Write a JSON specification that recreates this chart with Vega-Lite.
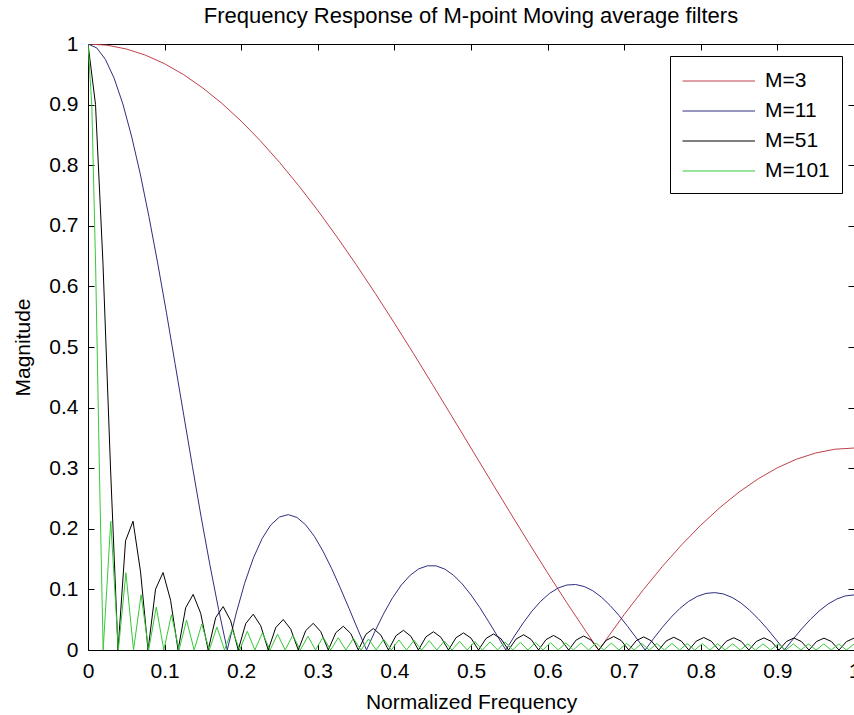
{
  "$schema": "https://vega.github.io/schema/vega-lite/v6.json",
  "width": 766,
  "height": 606,
  "autosize": {"type": "none"},
  "padding": {"left": 88, "top": 44, "right": 0, "bottom": 65},
  "background": "white",
  "title": {"text": "Frequency Response of M-point Moving average filters", "offset": 5},
  "data": {"values": [
    {"M":"M=3","f":0,"y":1},{"M":"M=3","f":0.025,"y":0.998},{"M":"M=3","f":0.05,"y":0.9918},{"M":"M=3","f":0.075,"y":0.9816},{"M":"M=3","f":0.1,"y":0.9674},{"M":"M=3","f":0.125,"y":0.9493},{"M":"M=3","f":0.15,"y":0.9273},{"M":"M=3","f":0.175,"y":0.9018},{"M":"M=3","f":0.2,"y":0.8727},{"M":"M=3","f":0.225,"y":0.8403},{"M":"M=3","f":0.25,"y":0.8047},{"M":"M=3","f":0.275,"y":0.7663},{"M":"M=3","f":0.3,"y":0.7252},{"M":"M=3","f":0.325,"y":0.6817},{"M":"M=3","f":0.35,"y":0.636},{"M":"M=3","f":0.375,"y":0.5885},{"M":"M=3","f":0.4,"y":0.5393},{"M":"M=3","f":0.425,"y":0.489},{"M":"M=3","f":0.45,"y":0.4376},{"M":"M=3","f":0.475,"y":0.3856},{"M":"M=3","f":0.5,"y":0.3333},{"M":"M=3","f":0.525,"y":0.281},{"M":"M=3","f":0.55,"y":0.229},{"M":"M=3","f":0.575,"y":0.1777},{"M":"M=3","f":0.6,"y":0.1273},{"M":"M=3","f":0.625,"y":0.0782},{"M":"M=3","f":0.65,"y":0.0307},{"M":"M=3","f":0.6667,"y":0},{"M":"M=3","f":0.7,"y":0.0585},{"M":"M=3","f":0.725,"y":0.0996},{"M":"M=3","f":0.75,"y":0.1381},{"M":"M=3","f":0.775,"y":0.1736},{"M":"M=3","f":0.8,"y":0.206},{"M":"M=3","f":0.825,"y":0.2351},{"M":"M=3","f":0.85,"y":0.2607},{"M":"M=3","f":0.875,"y":0.2826},{"M":"M=3","f":0.9,"y":0.3007},{"M":"M=3","f":0.925,"y":0.3149},{"M":"M=3","f":0.95,"y":0.3251},{"M":"M=3","f":0.975,"y":0.3313},{"M":"M=3","f":1,"y":0.3333},

    {"M":"M=11","f":0,"y":1},{"M":"M=11","f":0.0114,"y":0.9936},{"M":"M=11","f":0.0227,"y":0.9747},{"M":"M=11","f":0.0341,"y":0.9436},{"M":"M=11","f":0.0455,"y":0.9011},{"M":"M=11","f":0.0568,"y":0.8481},{"M":"M=11","f":0.0682,"y":0.7857},{"M":"M=11","f":0.0795,"y":0.7154},{"M":"M=11","f":0.0909,"y":0.6388},{"M":"M=11","f":0.1023,"y":0.5574},{"M":"M=11","f":0.1136,"y":0.473},{"M":"M=11","f":0.125,"y":0.3875},{"M":"M=11","f":0.1364,"y":0.3024},{"M":"M=11","f":0.1477,"y":0.2196},{"M":"M=11","f":0.1591,"y":0.1407},{"M":"M=11","f":0.1705,"y":0.067},{"M":"M=11","f":0.1818,"y":0},
    {"M":"M=11","f":0.1932,"y":0.0594},{"M":"M=11","f":0.2045,"y":0.1102},{"M":"M=11","f":0.2159,"y":0.1518},{"M":"M=11","f":0.2273,"y":0.1839},{"M":"M=11","f":0.2386,"y":0.2064},{"M":"M=11","f":0.25,"y":0.2195},{"M":"M=11","f":0.2614,"y":0.2234},{"M":"M=11","f":0.2727,"y":0.2188},{"M":"M=11","f":0.2841,"y":0.2066},{"M":"M=11","f":0.2955,"y":0.1877},{"M":"M=11","f":0.3068,"y":0.1631},{"M":"M=11","f":0.3182,"y":0.1341},{"M":"M=11","f":0.3295,"y":0.1021},{"M":"M=11","f":0.3409,"y":0.0682},{"M":"M=11","f":0.3523,"y":0.0337},{"M":"M=11","f":0.3636,"y":0},
    {"M":"M=11","f":0.375,"y":0.0319},{"M":"M=11","f":0.3864,"y":0.061},{"M":"M=11","f":0.3977,"y":0.0864},{"M":"M=11","f":0.4091,"y":0.1073},{"M":"M=11","f":0.4205,"y":0.1232},{"M":"M=11","f":0.4318,"y":0.1339},{"M":"M=11","f":0.4432,"y":0.139},{"M":"M=11","f":0.4545,"y":0.1388},{"M":"M=11","f":0.4659,"y":0.1334},{"M":"M=11","f":0.4773,"y":0.1233},{"M":"M=11","f":0.4886,"y":0.1089},{"M":"M=11","f":0.5,"y":0.0909},{"M":"M=11","f":0.5114,"y":0.0702},{"M":"M=11","f":0.5227,"y":0.0475},{"M":"M=11","f":0.5341,"y":0.0238},{"M":"M=11","f":0.5455,"y":0},
    {"M":"M=11","f":0.5568,"y":0.0231},{"M":"M=11","f":0.5682,"y":0.0447},{"M":"M=11","f":0.5795,"y":0.064},{"M":"M=11","f":0.5909,"y":0.0803},{"M":"M=11","f":0.6023,"y":0.0932},{"M":"M=11","f":0.6136,"y":0.1022},{"M":"M=11","f":0.625,"y":0.1072},{"M":"M=11","f":0.6364,"y":0.1081},{"M":"M=11","f":0.6477,"y":0.1048},{"M":"M=11","f":0.6591,"y":0.0977},{"M":"M=11","f":0.6705,"y":0.087},{"M":"M=11","f":0.6818,"y":0.0732},{"M":"M=11","f":0.6932,"y":0.057},{"M":"M=11","f":0.7045,"y":0.0389},{"M":"M=11","f":0.7159,"y":0.0197},{"M":"M=11","f":0.7273,"y":0},
    {"M":"M=11","f":0.7386,"y":0.0193},{"M":"M=11","f":0.75,"y":0.0377},{"M":"M=11","f":0.7614,"y":0.0543},{"M":"M=11","f":0.7727,"y":0.0686},{"M":"M=11","f":0.7841,"y":0.0802},{"M":"M=11","f":0.7955,"y":0.0885},{"M":"M=11","f":0.8068,"y":0.0934},{"M":"M=11","f":0.8182,"y":0.0947},{"M":"M=11","f":0.8295,"y":0.0925},{"M":"M=11","f":0.8409,"y":0.0867},{"M":"M=11","f":0.8523,"y":0.0777},{"M":"M=11","f":0.8636,"y":0.0658},{"M":"M=11","f":0.875,"y":0.0515},{"M":"M=11","f":0.8864,"y":0.0354},{"M":"M=11","f":0.8977,"y":0.018},{"M":"M=11","f":0.9091,"y":0},
    {"M":"M=11","f":0.9205,"y":0.0179},{"M":"M=11","f":0.9318,"y":0.035},{"M":"M=11","f":0.9432,"y":0.0507},{"M":"M=11","f":0.9545,"y":0.0644},{"M":"M=11","f":0.9659,"y":0.0757},{"M":"M=11","f":0.9773,"y":0.084},{"M":"M=11","f":0.9886,"y":0.0892},{"M":"M=11","f":1,"y":0.0909},

    {"M":"M=51","f":0,"y":1},{"M":"M=51","f":0.0098,"y":0.9003},{"M":"M=51","f":0.0196,"y":0.6367},{"M":"M=51","f":0.0294,"y":0.3002},{"M":"M=51","f":0.0392,"y":0},
    {"M":"M=51","f":0.049,"y":0.1802},{"M":"M=51","f":0.0588,"y":0.2125},{"M":"M=51","f":0.0686,"y":0.1289},{"M":"M=51","f":0.0784,"y":0},
    {"M":"M=51","f":0.0882,"y":0.1004},{"M":"M=51","f":0.098,"y":0.1278},{"M":"M=51","f":0.1078,"y":0.0822},{"M":"M=51","f":0.1176,"y":0},
    {"M":"M=51","f":0.1275,"y":0.0697},{"M":"M=51","f":0.1373,"y":0.0917},{"M":"M=51","f":0.1471,"y":0.0606},{"M":"M=51","f":0.1569,"y":0},
    {"M":"M=51","f":0.1667,"y":0.0536},{"M":"M=51","f":0.1765,"y":0.0716},{"M":"M=51","f":0.1863,"y":0.0481},{"M":"M=51","f":0.1961,"y":0},
    {"M":"M=51","f":0.2059,"y":0.0436},{"M":"M=51","f":0.2157,"y":0.059},{"M":"M=51","f":0.2255,"y":0.04},{"M":"M=51","f":0.2353,"y":0},
    {"M":"M=51","f":0.2451,"y":0.0369},{"M":"M=51","f":0.2549,"y":0.0503},{"M":"M=51","f":0.2647,"y":0.0343},{"M":"M=51","f":0.2745,"y":0},
    {"M":"M=51","f":0.2843,"y":0.0321},{"M":"M=51","f":0.2941,"y":0.044},{"M":"M=51","f":0.3039,"y":0.0302},{"M":"M=51","f":0.3137,"y":0},
    {"M":"M=51","f":0.3235,"y":0.0285},{"M":"M=51","f":0.3333,"y":0.0392},{"M":"M=51","f":0.3431,"y":0.027},{"M":"M=51","f":0.3529,"y":0},
    {"M":"M=51","f":0.3627,"y":0.0257},{"M":"M=51","f":0.3725,"y":0.0355},{"M":"M=51","f":0.3824,"y":0.0245},{"M":"M=51","f":0.3922,"y":0},
    {"M":"M=51","f":0.402,"y":0.0235},{"M":"M=51","f":0.4118,"y":0.0325},{"M":"M=51","f":0.4216,"y":0.0225},{"M":"M=51","f":0.4314,"y":0},
    {"M":"M=51","f":0.4412,"y":0.0217},{"M":"M=51","f":0.451,"y":0.0301},{"M":"M=51","f":0.4608,"y":0.0209},{"M":"M=51","f":0.4706,"y":0},
    {"M":"M=51","f":0.4804,"y":0.0202},{"M":"M=51","f":0.4902,"y":0.0282},{"M":"M=51","f":0.5,"y":0.0196},{"M":"M=51","f":0.5098,"y":0},
    {"M":"M=51","f":0.5196,"y":0.019},{"M":"M=51","f":0.5294,"y":0.0265},{"M":"M=51","f":0.5392,"y":0.0185},{"M":"M=51","f":0.549,"y":0},
    {"M":"M=51","f":0.5588,"y":0.018},{"M":"M=51","f":0.5686,"y":0.0252},{"M":"M=51","f":0.5784,"y":0.0176},{"M":"M=51","f":0.5882,"y":0},
    {"M":"M=51","f":0.598,"y":0.0172},{"M":"M=51","f":0.6078,"y":0.024},{"M":"M=51","f":0.6176,"y":0.0168},{"M":"M=51","f":0.6275,"y":0},
    {"M":"M=51","f":0.6373,"y":0.0165},{"M":"M=51","f":0.6471,"y":0.0231},{"M":"M=51","f":0.6569,"y":0.0162},{"M":"M=51","f":0.6667,"y":0},
    {"M":"M=51","f":0.6765,"y":0.0159},{"M":"M=51","f":0.6863,"y":0.0223},{"M":"M=51","f":0.6961,"y":0.0156},{"M":"M=51","f":0.7059,"y":0},
    {"M":"M=51","f":0.7157,"y":0.0154},{"M":"M=51","f":0.7255,"y":0.0216},{"M":"M=51","f":0.7353,"y":0.0152},{"M":"M=51","f":0.7451,"y":0},
    {"M":"M=51","f":0.7549,"y":0.015},{"M":"M=51","f":0.7647,"y":0.021},{"M":"M=51","f":0.7745,"y":0.0148},{"M":"M=51","f":0.7843,"y":0},
    {"M":"M=51","f":0.7941,"y":0.0146},{"M":"M=51","f":0.8039,"y":0.0206},{"M":"M=51","f":0.8137,"y":0.0145},{"M":"M=51","f":0.8235,"y":0},
    {"M":"M=51","f":0.8333,"y":0.0144},{"M":"M=51","f":0.8431,"y":0.0202},{"M":"M=51","f":0.8529,"y":0.0142},{"M":"M=51","f":0.8627,"y":0},
    {"M":"M=51","f":0.8725,"y":0.0141},{"M":"M=51","f":0.8824,"y":0.02},{"M":"M=51","f":0.8922,"y":0.0141},{"M":"M=51","f":0.902,"y":0},
    {"M":"M=51","f":0.9118,"y":0.014},{"M":"M=51","f":0.9216,"y":0.0198},{"M":"M=51","f":0.9314,"y":0.0139},{"M":"M=51","f":0.9412,"y":0},
    {"M":"M=51","f":0.951,"y":0.0139},{"M":"M=51","f":0.9608,"y":0.0196},{"M":"M=51","f":0.9706,"y":0.0139},{"M":"M=51","f":0.9804,"y":0},
    {"M":"M=51","f":0.9902,"y":0.0139},{"M":"M=51","f":1,"y":0.0196},

    {"M":"M=101","f":0,"y":1},{"M":"M=101","f":0.005,"y":0.898},{"M":"M=101","f":0.0099,"y":0.637},{"M":"M=101","f":0.015,"y":0.29},{"M":"M=101","f":0.0198,"y":0},
    {"M":"M=101","f":0.0297,"y":0.2123},{"M":"M=101","f":0.0396,"y":0},{"M":"M=101","f":0.0495,"y":0.1275},{"M":"M=101","f":0.0594,"y":0},{"M":"M=101","f":0.0693,"y":0.0911},{"M":"M=101","f":0.0792,"y":0},{"M":"M=101","f":0.0891,"y":0.071},{"M":"M=101","f":0.099,"y":0},
    {"M":"M=101","f":0.1089,"y":0.0582},{"M":"M=101","f":0.1188,"y":0},{"M":"M=101","f":0.1287,"y":0.0493},{"M":"M=101","f":0.1386,"y":0},{"M":"M=101","f":0.1485,"y":0.0428},{"M":"M=101","f":0.1584,"y":0},{"M":"M=101","f":0.1683,"y":0.0379},{"M":"M=101","f":0.1782,"y":0},{"M":"M=101","f":0.1881,"y":0.034},{"M":"M=101","f":0.198,"y":0},
    {"M":"M=101","f":0.2079,"y":0.0309},{"M":"M=101","f":0.2178,"y":0},{"M":"M=101","f":0.2277,"y":0.0283},{"M":"M=101","f":0.2376,"y":0},{"M":"M=101","f":0.2475,"y":0.0261},{"M":"M=101","f":0.2574,"y":0},{"M":"M=101","f":0.2673,"y":0.0243},{"M":"M=101","f":0.2772,"y":0},{"M":"M=101","f":0.2871,"y":0.0227},{"M":"M=101","f":0.297,"y":0},
    {"M":"M=101","f":0.3069,"y":0.0214},{"M":"M=101","f":0.3168,"y":0},{"M":"M=101","f":0.3267,"y":0.0202},{"M":"M=101","f":0.3366,"y":0},{"M":"M=101","f":0.3465,"y":0.0191},{"M":"M=101","f":0.3564,"y":0},{"M":"M=101","f":0.3663,"y":0.0182},{"M":"M=101","f":0.3762,"y":0},{"M":"M=101","f":0.3861,"y":0.0174},{"M":"M=101","f":0.396,"y":0},
    {"M":"M=101","f":0.4059,"y":0.0166},{"M":"M=101","f":0.4158,"y":0},{"M":"M=101","f":0.4257,"y":0.016},{"M":"M=101","f":0.4356,"y":0},{"M":"M=101","f":0.4455,"y":0.0154},{"M":"M=101","f":0.4554,"y":0},{"M":"M=101","f":0.4653,"y":0.0148},{"M":"M=101","f":0.4752,"y":0},{"M":"M=101","f":0.4851,"y":0.0143},{"M":"M=101","f":0.495,"y":0},
    {"M":"M=101","f":0.505,"y":0.0139},{"M":"M=101","f":0.5149,"y":0},{"M":"M=101","f":0.5248,"y":0.0135},{"M":"M=101","f":0.5347,"y":0},{"M":"M=101","f":0.5446,"y":0.0131},{"M":"M=101","f":0.5545,"y":0},{"M":"M=101","f":0.5644,"y":0.0128},{"M":"M=101","f":0.5743,"y":0},{"M":"M=101","f":0.5842,"y":0.0125},{"M":"M=101","f":0.5941,"y":0},
    {"M":"M=101","f":0.604,"y":0.0122},{"M":"M=101","f":0.6139,"y":0},{"M":"M=101","f":0.6238,"y":0.0119},{"M":"M=101","f":0.6337,"y":0},{"M":"M=101","f":0.6436,"y":0.0117},{"M":"M=101","f":0.6535,"y":0},{"M":"M=101","f":0.6634,"y":0.0115},{"M":"M=101","f":0.6733,"y":0},{"M":"M=101","f":0.6832,"y":0.0113},{"M":"M=101","f":0.6931,"y":0},
    {"M":"M=101","f":0.703,"y":0.0111},{"M":"M=101","f":0.7129,"y":0},{"M":"M=101","f":0.7228,"y":0.0109},{"M":"M=101","f":0.7327,"y":0},{"M":"M=101","f":0.7426,"y":0.0108},{"M":"M=101","f":0.7525,"y":0},{"M":"M=101","f":0.7624,"y":0.0106},{"M":"M=101","f":0.7723,"y":0},{"M":"M=101","f":0.7822,"y":0.0105},{"M":"M=101","f":0.7921,"y":0},
    {"M":"M=101","f":0.802,"y":0.0104},{"M":"M=101","f":0.8119,"y":0},{"M":"M=101","f":0.8218,"y":0.0103},{"M":"M=101","f":0.8317,"y":0},{"M":"M=101","f":0.8416,"y":0.0102},{"M":"M=101","f":0.8515,"y":0},{"M":"M=101","f":0.8614,"y":0.0101},{"M":"M=101","f":0.8713,"y":0},{"M":"M=101","f":0.8812,"y":0.0101},{"M":"M=101","f":0.8911,"y":0},
    {"M":"M=101","f":0.901,"y":0.01},{"M":"M=101","f":0.9109,"y":0},{"M":"M=101","f":0.9208,"y":0.01},{"M":"M=101","f":0.9307,"y":0},{"M":"M=101","f":0.9406,"y":0.0099},{"M":"M=101","f":0.9505,"y":0},{"M":"M=101","f":0.9604,"y":0.0099},{"M":"M=101","f":0.9703,"y":0},{"M":"M=101","f":0.9802,"y":0.0099},{"M":"M=101","f":0.9901,"y":0},{"M":"M=101","f":1,"y":0.0099}
  ]},
  "layer": [
    {
      "mark": {"type": "line", "strokeWidth": 1, "clip": true},
      "encoding": {
        "x": {"field": "f", "type": "quantitative", "scale": {"domain": [0, 1], "nice": false},
              "axis": {"orient": "bottom", "title": "Normalized Frequency", "values": [0,0.1,0.2,0.3,0.4,0.5,0.6,0.7,0.8,0.9,1], "format": "~g", "labelFlush": false, "labelPadding": 16, "titlePadding": 10}},
        "y": {"field": "y", "type": "quantitative", "scale": {"domain": [0, 1], "nice": false},
              "axis": {"orient": "left", "title": "Magnitude", "values": [0,0.1,0.2,0.3,0.4,0.5,0.6,0.7,0.8,0.9,1], "format": "~g", "labelPadding": 16, "titlePadding": 15}},
        "color": {"field": "M", "type": "nominal",
                  "scale": {"domain": ["M=3", "M=11", "M=51", "M=101"], "range": ["#c0404a", "#2e2e80", "#000000", "#36c936"]},
                  "legend": {"title": null, "orient": "top-right", "offset": 12}}
      }
    },
    {
      "mark": {"type": "line", "opacity": 0},
      "encoding": {
        "x": {"field": "f", "type": "quantitative", "axis": {"orient": "top", "title": null, "labels": false, "values": [0,0.1,0.2,0.3,0.4,0.5,0.6,0.7,0.8,0.9,1]}},
        "y": {"field": "y", "type": "quantitative", "axis": {"orient": "right", "title": null, "labels": false, "values": [0,0.1,0.2,0.3,0.4,0.5,0.6,0.7,0.8,0.9,1]}}
      }
    }
  ],
  "resolve": {"axis": {"x": "independent", "y": "independent"}},
  "config": {
    "view": {"stroke": "black", "strokeWidth": 1},
    "font": "Liberation Sans",
    "axis": {"domain": false, "grid": false, "ticks": true, "tickSize": -6, "tickColor": "black", "tickWidth": 1,
             "labelFont": "Liberation Sans", "labelFontSize": 21, "labelColor": "black",
             "titleFont": "Liberation Sans", "titleFontSize": 21, "titleFontWeight": "normal", "titleColor": "black"},
    "legend": {"symbolType": "M-1,0H4.8", "symbolSize": 625, "symbolStrokeWidth": 1, "labelFont": "Liberation Sans", "labelFontSize": 21,
               "labelColor": "black", "labelOffset": 57, "fillColor": "white", "strokeColor": "black", "padding": 12, "rowPadding": 7},
    "title": {"font": "Liberation Sans", "fontSize": 22, "fontWeight": "normal", "color": "black"}
  }
}
